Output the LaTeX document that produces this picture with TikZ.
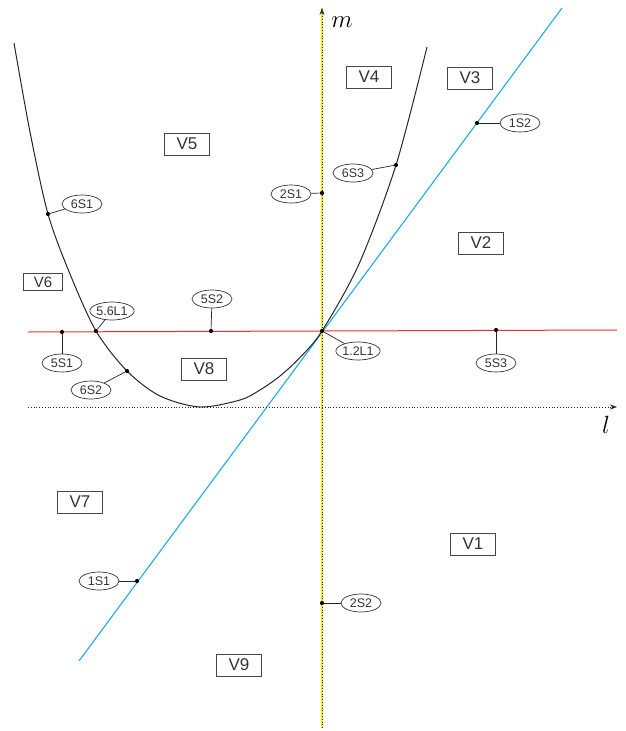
\documentclass[tikz,border=0pt]{standalone}
\usepackage{fontspec}
\setmainfont{Liberation Sans}
\usetikzlibrary{shapes.geometric,arrows.meta}
\definecolor{txt}{HTML}{333333}
\definecolor{bluel}{RGB}{30,170,230}
\definecolor{redl}{RGB}{235,45,45}
\definecolor{yell}{RGB}{250,230,0}
\begin{document}
\begin{tikzpicture}[x=1pt,y=-1pt,
  region/.style={draw=txt!90, line width=0.8pt, text=txt, inner sep=0pt,
    minimum width=45pt, minimum height=22pt, font=\fontsize{17}{20}\selectfont},
  smallregion/.style={region, minimum width=39pt, minimum height=17pt, font=\fontsize{15}{18}\selectfont},
  tag/.style={draw=txt, line width=0.7pt, ellipse, text=txt, inner sep=0pt,
    minimum width=40pt, minimum height=18pt, font=\fontsize{12.5}{14}\selectfont},
  pdot/.style={circle, fill=black, inner sep=0pt, minimum size=4.2pt},
  lead/.style={draw=black!85, line width=0.7pt},
  axislbl/.style={font=\fontsize{25}{30}\selectfont}]
\useasboundingbox (0,0) rectangle (625,731);

% axis end points
\coordinate (lstart) at (28,407);
\coordinate (lend) at (617,407);
\coordinate (mstart) at (322,728);
\coordinate (mend) at (322,8);
\coordinate (rstart) at (28,332);
\coordinate (rend) at (617,330);
\coordinate (bstart) at (79,661);
\coordinate (bend) at (562,8);

% red line
\draw[redl, line width=1pt] (rstart) -- (rend);
% blue line
\draw[bluel, line width=1.1pt] (bstart) -- (bend);
% black curve
\draw[black!85, line width=1pt] plot[smooth, tension=0.5] coordinates
  {(14,43) (30,132) (48,214) (70,274) (96,331) (127,371) (160,396) (200,407)
   (240,400) (260,390) (280,376) (300,357.5) (322,331) (359,264) (396,165) (427,47)};
% yellow line and axes
\draw[yell, line width=1.4pt] (mstart) -- (mend);
\draw[black!80, line width=0.8pt, dotted, -{Stealth[length=7pt,width=5pt]}] (mstart) -- (mend);
\draw[black!85, line width=0.8pt, dotted, -{Stealth[length=7pt,width=5pt]}] (lstart) -- (lend);
\node[axislbl] (mlbl) at (342,22) {$m$};
\node[axislbl] (llbl) at (606,425) {$l$};

% regions
\node[region] (v1) at (473,544) {V1};
\node[region] (v2) at (481,243) {V2};
\node[region] (v3) at (470,78) {V3};
\node[region] (v4) at (369,77) {V4};
\node[region] (v5) at (187,144) {V5};
\node[smallregion] (v6) at (43,282) {V6};
\node[region] (v7) at (80,502) {V7};
\node[region] (v8) at (204,369) {V8};
\node[region] (v9) at (239,665) {V9};

% dots
\node[pdot] (p6s1) at (48,214) {};
\node[pdot] (p56l1) at (96,331) {};
\node[pdot] (p5s1) at (62,332) {};
\node[pdot] (p6s2) at (127,371) {};
\node[pdot] (p5s2) at (211,331) {};
\node[pdot] (p12l1) at (322,331) {};
\node[pdot] (p5s3) at (496,330) {};
\node[pdot] (p6s3) at (396,165) {};
\node[pdot] (p2s1) at (322,193) {};
\node[pdot] (p1s2) at (477,123) {};
\node[pdot] (p1s1) at (137,581) {};
\node[pdot] (p2s2) at (322,603) {};

% tags
\node[tag] (t6s1) at (82,204) {6S1};
\node[tag] (t56l1) at (112,311) {5.6L1};
\node[tag] (t5s1) at (62,363) {5S1};
\node[tag] (t6s2) at (91,390) {6S2};
\node[tag] (t5s2) at (212,299) {5S2};
\node[tag] (t12l1) at (358,351) {1.2L1};
\node[tag] (t5s3) at (496,363) {5S3};
\node[tag] (t6s3) at (353,173) {6S3};
\node[tag] (t2s1) at (291,194) {2S1};
\node[tag] (t1s2) at (520,123) {1S2};
\node[tag] (t1s1) at (99,581) {1S1};
\node[tag] (t2s2) at (361,603) {2S2};

% leaders
\draw[lead] (p6s1) -- (t6s1);
\draw[lead] (p56l1) -- (t56l1);
\draw[lead] (p5s1) -- (t5s1);
\draw[lead] (p6s2) -- (t6s2);
\draw[lead] (p5s2) -- (t5s2);
\draw[lead] (p12l1) -- (t12l1);
\draw[lead] (p5s3) -- (t5s3);
\draw[lead] (p6s3) -- (t6s3);
\draw[lead] (p2s1) -- (t2s1);
\draw[lead] (p1s2) -- (t1s2);
\draw[lead] (p1s1) -- (t1s1);
\draw[lead] (p2s2) -- (t2s2);
\end{tikzpicture}
\end{document}
